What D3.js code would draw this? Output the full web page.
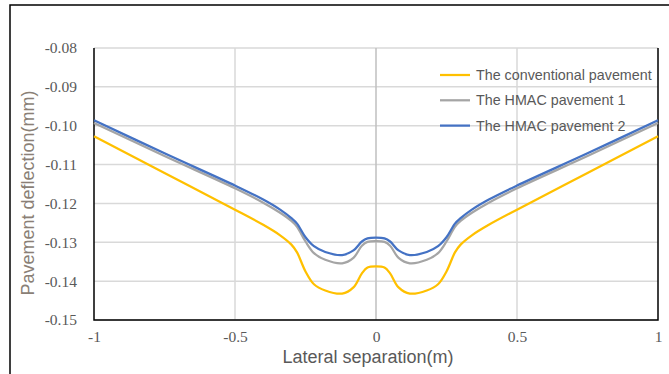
<!DOCTYPE html>
<html>
<head>
<meta charset="utf-8">
<script src="https://cdn.jsdelivr.net/npm/d3@7"></script>
<style>
  html, body { margin: 0; padding: 0; background: #fff; }
  svg { display: block; }
</style>
</head>
<body>
<div id="chart"></div>
<script>
// lateral separation (m)
const xs = [-1, -0.75, -0.5, -0.4, -0.34, -0.3, -0.28, -0.25, -0.22, -0.18, -0.12, -0.08, -0.05, -0.03, 0,
            0.03, 0.05, 0.08, 0.12, 0.18, 0.22, 0.25, 0.28, 0.3, 0.34, 0.4, 0.5, 0.75, 1];

// pavement deflection (mm)
const conventional = [-0.1027, -0.1122, -0.1216, -0.1255, -0.1282, -0.1306, -0.1326, -0.1375, -0.1408, -0.1424, -0.1432, -0.1416, -0.1380, -0.1365, -0.1362,
                      -0.1365, -0.1380, -0.1416, -0.1432, -0.1424, -0.1408, -0.1375, -0.1326, -0.1306, -0.1282, -0.1255, -0.1216, -0.1122, -0.1027];
const hmac1 = [-0.0993, -0.1078, -0.1161, -0.1198, -0.1224, -0.1245, -0.1260, -0.1298, -0.1328, -0.1345, -0.1354, -0.1340, -0.1309, -0.1299, -0.1297,
               -0.1299, -0.1309, -0.1340, -0.1354, -0.1345, -0.1328, -0.1298, -0.1260, -0.1245, -0.1224, -0.1198, -0.1161, -0.1078, -0.0993];
const hmac2 = [-0.0986, -0.1071, -0.1154, -0.1190, -0.1216, -0.1238, -0.1252, -0.1287, -0.1310, -0.1325, -0.1333, -0.1321, -0.1298, -0.1290, -0.1288,
               -0.1290, -0.1298, -0.1321, -0.1333, -0.1325, -0.1310, -0.1287, -0.1252, -0.1238, -0.1216, -0.1190, -0.1154, -0.1071, -0.0986];

const seriesNames = ['The conventional pavement', 'The HMAC pavement 1', 'The HMAC pavement 2'];
const seriesColors = ['#FFC000', '#A5A5A5', '#4472C4'];
const xTicks = [-1, -0.5, 0, 0.5, 1];
const xTickLabels = ['-1', '-0.5', '0', '0.5', '1'];
const yTicks = [-0.08, -0.09, -0.10, -0.11, -0.12, -0.13, -0.14, -0.15];
const yTickLabels = ['-0.08', '-0.09', '-0.10', '-0.11', '-0.12', '-0.13', '-0.14', '-0.15'];

const dims = { width: 669, height: 374 };
const plot = { left: 94, right: 658, top: 48, bottom: 320 };

const svg = d3.select('#chart').append('svg')
  .attr('width', dims.width)
  .attr('height', dims.height);

// outer chart frame (only left/top visible in the crop)
svg.append('rect')
  .attr('x', 10).attr('y', 5)
  .attr('width', 800).attr('height', 500)
  .attr('fill', 'none')
  .attr('stroke', '#000')
  .attr('stroke-width', 1.5);

const x = d3.scaleLinear().domain([-1, 1]).range([plot.left, plot.right]);
const y = d3.scaleLinear().domain([-0.15, -0.08]).range([plot.bottom, plot.top]);

// gridlines
svg.append('g')
  .selectAll('line')
  .data(yTicks)
  .join('line')
  .attr('x1', plot.left).attr('x2', plot.right)
  .attr('y1', d => y(d)).attr('y2', d => y(d))
  .attr('stroke', '#d9d9d9')
  .attr('stroke-width', 1.5);

svg.append('g')
  .selectAll('line')
  .data(xTicks.filter(d => d !== -1 && d !== 1))
  .join('line')
  .attr('x1', d => x(d)).attr('x2', d => x(d))
  .attr('y1', plot.top).attr('y2', plot.bottom)
  .attr('stroke', d => d === 0 ? '#bfbfbf' : '#d9d9d9')
  .attr('stroke-width', 1.5);

// plot border: left, bottom, right in black
svg.append('path')
  .attr('d', `M${plot.left},${plot.top}V${plot.bottom}H${plot.right}V${plot.top}`)
  .attr('fill', 'none')
  .attr('stroke', '#000')
  .attr('stroke-width', 1.5);

// tick labels
const tickFont = '"Liberation Serif", "Times New Roman", serif';
const xAxis = d3.axisBottom(x).tickValues(xTicks).tickSize(0).tickPadding(0)
  .tickFormat((d, i) => xTickLabels[i]);
const xg = svg.append('g').attr('transform', `translate(0, ${plot.bottom + 17})`).call(xAxis);
xg.select('.domain').remove();
xg.selectAll('text')
  .attr('dy', '0.32em')
  .attr('y', 0)
  .attr('font-family', tickFont)
  .attr('font-size', 15.5)
  .attr('fill', '#595959');

const yAxis = d3.axisLeft(y).tickValues(yTicks).tickSize(0).tickPadding(0)
  .tickFormat((d, i) => yTickLabels[i]);
const yg = svg.append('g').attr('transform', `translate(${plot.left - 17}, 0)`).call(yAxis);
yg.select('.domain').remove();
yg.selectAll('text')
  .attr('font-family', tickFont)
  .attr('font-size', 15.5)
  .attr('fill', '#595959');

// axis titles
const titleFont = '"Liberation Sans", Arial, sans-serif';
svg.append('text')
  .attr('x', 368).attr('y', 357)
  .attr('dy', '0.35em')
  .attr('text-anchor', 'middle')
  .attr('font-family', titleFont)
  .attr('font-size', 18)
  .attr('fill', '#595959')
  .text('Lateral separation(m)');

svg.append('text')
  .attr('transform', 'translate(28, 193) rotate(-90)')
  .attr('dy', '0.35em')
  .attr('text-anchor', 'middle')
  .attr('font-family', titleFont)
  .attr('font-size', 18)
  .attr('fill', '#8a7f76')
  .text('Pavement deflection(mm)');

// lines
const allSeries = [conventional, hmac1, hmac2];
const line = d3.line()
  .x((d, i) => x(xs[i]))
  .y(d => y(d))
  .curve(d3.curveCatmullRom.alpha(0.5));

svg.append('g')
  .selectAll('path')
  .data(allSeries)
  .join('path')
  .attr('d', d => line(d))
  .attr('fill', 'none')
  .attr('stroke', (d, i) => seriesColors[i])
  .attr('stroke-width', 2.25)
  .attr('stroke-linejoin', 'round');

// legend
const legend = svg.append('g').attr('transform', 'translate(440, 75)');
const item = legend.selectAll('g')
  .data(seriesNames)
  .join('g')
  .attr('transform', (d, i) => `translate(0, ${i * 25.3})`);

item.append('line')
  .attr('x1', 0).attr('x2', 30)
  .attr('y1', 0).attr('y2', 0)
  .attr('stroke', (d, i) => seriesColors[i])
  .attr('stroke-width', 2.25);

item.append('text')
  .attr('x', 36).attr('y', 0)
  .attr('dy', '0.35em')
  .attr('font-family', titleFont)
  .attr('font-size', 14.3)
  .attr('fill', '#595959')
  .text(d => d);
</script>
</body>
</html>
